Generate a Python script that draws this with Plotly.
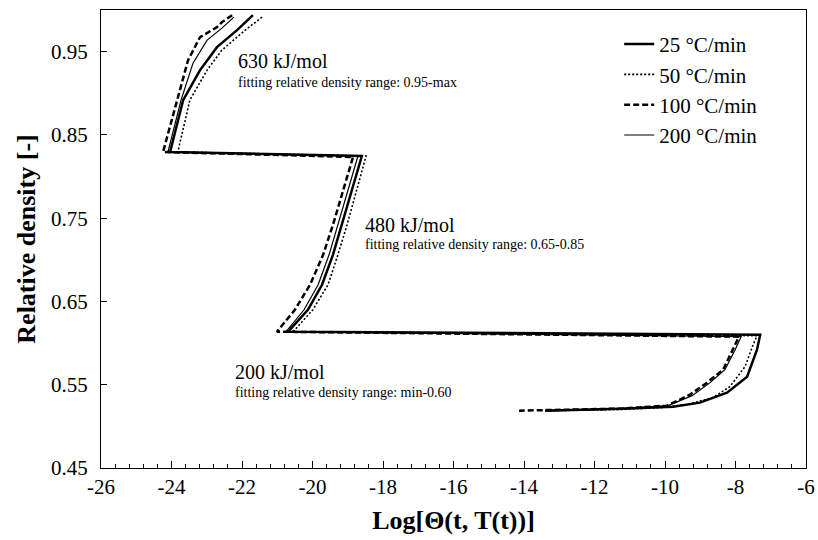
import plotly.graph_objects as go

# Heating-rate series (Log Theta vs relative density)
x_25 = [-21.69, -22.14, -22.71, -23.19, -23.67, -24.04,
        -18.60, -18.88, -19.16, -19.42, -19.73, -20.13, -20.69,
        -7.30, -7.39, -7.67, -8.24, -9.01, -9.77, -11.28, -13.40]
y_25 = [0.9938, 0.9758, 0.9554, 0.9278, 0.8918, 0.8295,
        0.8247, 0.7839, 0.7419, 0.7060, 0.6700, 0.6400, 0.6137,
        0.6101, 0.5921, 0.5597, 0.5405, 0.5285, 0.5237, 0.5213, 0.5189]

x_50 = [-21.43, -21.91, -22.57, -22.99, -23.48, -23.82,
        -18.48, -18.74, -19.02, -19.28, -19.56, -19.99, -20.55,
        -7.39, -7.50, -7.73, -8.16, -8.64, -9.38, -10.14, -11.28, -13.40]
y_50 = [0.9914, 0.9758, 0.9518, 0.9278, 0.8918, 0.8295,
        0.8247, 0.7839, 0.7419, 0.7060, 0.6700, 0.6400, 0.6137,
        0.6089, 0.5981, 0.5717, 0.5477, 0.5345, 0.5261, 0.5225, 0.5201, 0.5189]

x_100 = [-22.28, -22.57, -22.71, -23.19, -23.53, -23.84, -24.24,
         -18.85, -19.13, -19.42, -19.70, -20.07, -20.50, -21.01,
         -7.90, -8.07, -8.35, -8.81, -9.29, -9.94, -11.28, -14.14]
y_100 = [0.9938, 0.9854, 0.9794, 0.9674, 0.9398, 0.8918, 0.8295,
         0.8235, 0.7839, 0.7419, 0.7060, 0.6700, 0.6400, 0.6137,
         0.6077, 0.5921, 0.5681, 0.5525, 0.5381, 0.5249, 0.5213, 0.5189]

x_200 = [-22.23, -22.57, -22.99, -23.39, -23.73, -24.10,
         -18.71, -18.99, -19.28, -19.53, -19.84, -20.24, -20.75,
         -7.84, -8.01, -8.30, -8.72, -9.23, -9.91, -11.28, -13.40]
y_200 = [0.9914, 0.9782, 0.9638, 0.9362, 0.8918, 0.8295,
         0.8247, 0.7839, 0.7419, 0.7060, 0.6700, 0.6400, 0.6137,
         0.6077, 0.5921, 0.5681, 0.5525, 0.5369, 0.5249, 0.5213, 0.5189]

series_names = ["25 °C/min", "50 °C/min", "100 °C/min", "200 °C/min"]

# Axis ticks
x_tickvals = [-26, -24, -22, -20, -18, -16, -14, -12, -10, -8, -6]
x_ticktext = ["-26", "-24", "-22", "-20", "-18", "-16", "-14", "-12", "-10", "-8", "-6"]
y_tickvals = [0.45, 0.55, 0.65, 0.75, 0.85, 0.95]
y_ticktext = ["0.45", "0.55", "0.65", "0.75", "0.85", "0.95"]

# Annotation texts and anchor positions (data coords)
ann_main = ["630 kJ/mol", "480 kJ/mol", "200 kJ/mol"]
ann_sub = ["fitting relative density range: 0.95-max",
           "fitting relative density range: 0.65-0.85",
           "fitting relative density range: min-0.60"]
ann_x = [-22.17, -18.57, -22.26]
ann_y_main = [0.9386, 0.742, 0.5657]
ann_y_sub = [0.9134, 0.718, 0.5405]

FONT = "Liberation Serif, Times New Roman, serif"

fig = go.Figure()
styles = [
    dict(color="black", width=2.5, dash="solid"),
    dict(color="black", width=1.6, dash="2px,2px"),
    dict(color="black", width=2.5, dash="6px,3px"),
    dict(color="black", width=1.2, dash="solid"),
]
for i, (xs, ys) in enumerate([(x_25, y_25), (x_50, y_50), (x_100, y_100), (x_200, y_200)]):
    fig.add_trace(go.Scatter(x=xs, y=ys, mode="lines", name=series_names[i],
                             line=styles[i], legendgroup=f"g{i}"))

annotations = []
for t, x, y in zip(ann_main, ann_x, ann_y_main):
    annotations.append(dict(x=x, y=y, xref="x", yref="y", text=t, showarrow=False,
                            xanchor="left", yanchor="middle",
                            font=dict(family=FONT, size=20, color="black")))
for t, x, y in zip(ann_sub, ann_x, ann_y_sub):
    annotations.append(dict(x=x, y=y, xref="x", yref="y", text=t, showarrow=False,
                            xanchor="left", yanchor="middle",
                            font=dict(family=FONT, size=14, color="black")))

fig.update_layout(
    width=818, height=540,
    margin=dict(l=101, r=12, t=10, b=72, autoexpand=False),
    paper_bgcolor="white", plot_bgcolor="white",
    font=dict(family=FONT, color="black"),
    annotations=annotations,
    legend=dict(x=0.735, y=0.9695, xanchor="left", yanchor="top",
                font=dict(family=FONT, size=21, color="black"),
                bgcolor="rgba(0,0,0,0)", tracegroupgap=0),
    xaxis=dict(range=[-26, -6], tickmode="array", tickvals=x_tickvals, ticktext=x_ticktext,
               ticks="inside", ticklen=7, tickwidth=1, tickcolor="black",
               minor=dict(ticks="inside", ticklen=4, dtick=0.4, tick0=-26, tickcolor="black"),
               showline=True, linecolor="black", linewidth=1.3, mirror=True,
               showgrid=False, zeroline=False, automargin=False,
               tickfont=dict(family=FONT, size=21),
               title=dict(text="<b>Log[Θ(t, T(t))]</b>", font=dict(family=FONT, size=26), standoff=12)),
    yaxis=dict(range=[0.45, 1.0], tickmode="array",
               tickvals=y_tickvals, ticktext=y_ticktext,
               ticks="inside", ticklen=6, tickwidth=1, tickcolor="black",
               showline=True, linecolor="black", linewidth=1.3, mirror=True,
               showgrid=False, zeroline=False, automargin=False,
               ticklabelstandoff=8,
               tickfont=dict(family=FONT, size=21),
               title=dict(text="<b>Relative density [-]</b>", font=dict(family=FONT, size=26), standoff=7)),
)

fig.write_html("out.html")
